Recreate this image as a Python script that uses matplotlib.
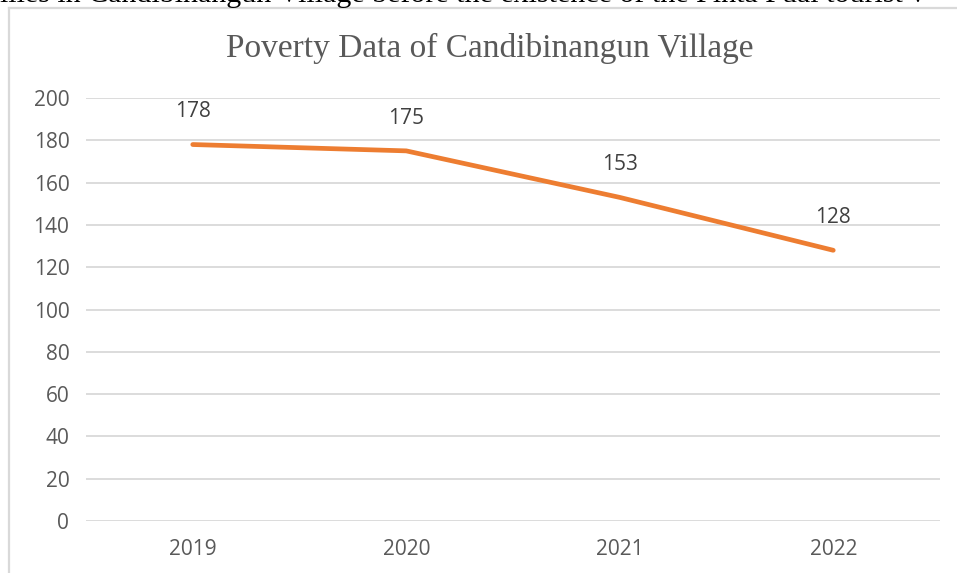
import matplotlib.pyplot as plt
from matplotlib.lines import Line2D

# Data
years = ['2019', '2020', '2021', '2022']
poor_families = [178, 175, 153, 128]
y_ticks = [0, 20, 40, 60, 80, 100, 120, 140, 160, 180, 200]

W, H = 957, 573
fig = plt.figure(figsize=(W / 100, H / 100), dpi=100)
fig.patch.set_facecolor('white')

# cut-off document text above the chart (only its lower edge shows)
fig.text(0.0, 1 - 1.5 / H, 'ilies in Candibinangun Village before the existence of the Pinta Pual tourist v',
         fontsize=21.6, family='Liberation Serif', color='black', va='baseline', ha='left')

# chart frame (only top and left edges visible)
frame_col = '#D9D9D9'
fig.add_artist(Line2D([9 / W, 9 / W], [0, 1 - 8 / H], color=frame_col, lw=1.6))
fig.add_artist(Line2D([9 / W, 1], [1 - 8 / H, 1 - 8 / H], color=frame_col, lw=1.6))

ax = fig.add_axes([86 / W, (H - 521) / H, (940 - 86) / W, (521 - 98) / H])
x = range(len(years))
ax.plot(x, poor_families, color='#ED7D31', lw=3.4, solid_capstyle='round', solid_joinstyle='round', zorder=3)
for xi, v in zip(x, poor_families):
    ax.annotate(str(v), (xi, v), xytext=(0, 23.5), textcoords='offset points', ha='center', va='center',
                fontsize=15, family='Open Sans', color='#404040')

ax.set_xlim(-0.5, len(years) - 0.5)
ax.set_ylim(0, 200)
ax.set_yticks(y_ticks)
ax.set_xticks(list(x))
ax.set_xticklabels(years)
ax.grid(axis='y', color=frame_col, lw=1.3)
ax.set_axisbelow(True)
for s in ax.spines.values():
    s.set_visible(False)
ax.tick_params(length=0, labelsize=15, labelcolor='#595959', pad=12)
for lab in ax.get_xticklabels() + ax.get_yticklabels():
    lab.set_family('Open Sans')
ax.tick_params(axis='x', pad=13)

fig.text(490 / W, 1 - 48 / H, 'Poverty Data of Candibinangun Village', ha='center', va='center',
         fontsize=24, family='Liberation Serif', color='#595959')

fig.savefig('out.png', dpi=100)
